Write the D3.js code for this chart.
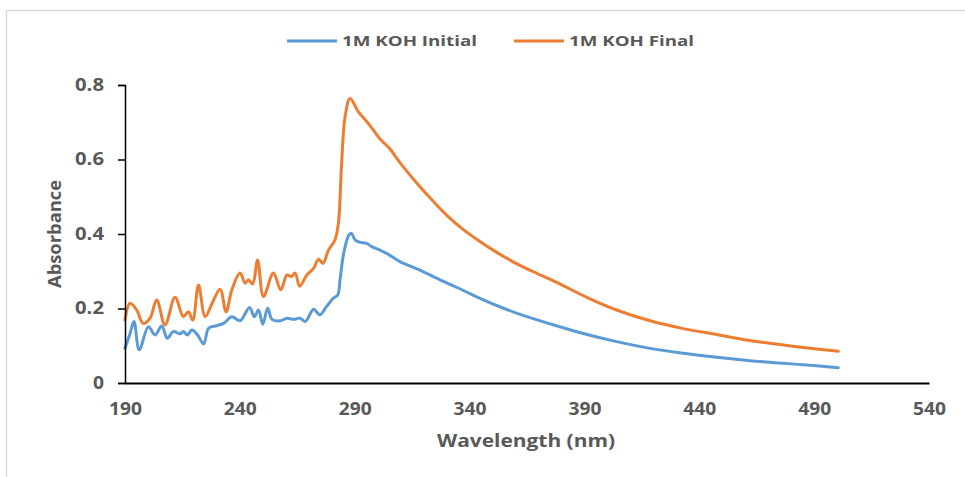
<!DOCTYPE html>
<html>
<head>
<meta charset="utf-8">
<script src="https://cdn.jsdelivr.net/npm/d3@7"></script>
<style>
  html, body { margin: 0; padding: 0; background: #fff; }
  svg text { font-family: "Open Sans", "Liberation Sans", sans-serif; font-weight: 700; fill: #595959; }
</style>
</head>
<body>
<svg id="chart" width="965" height="477"></svg>
<script>
// ---- Data ----
const seriesNames = ["1M KOH Initial", "1M KOH Final"];
const xTicks = [190, 240, 290, 340, 390, 440, 490, 540];
const yTicks = [0, 0.2, 0.4, 0.6, 0.8];
const yTickLabels = ["0", "0.2", "0.4", "0.6", "0.8"];

const initialWavelength = [190, 192.2, 193.9, 196.2, 200.2, 203.1, 206, 208.4, 211, 214, 215.4, 217.2, 219.1, 221.6, 224.2, 226.4, 229.3, 232.9, 236.5, 240.1, 244.2, 246.3, 248.1, 250, 252.1, 254, 257.6, 260.5, 263.4, 266.3, 268.5, 272.1, 274.8, 277.7, 280.6, 282.6, 283.6, 285.2, 287.4, 288.5, 290.1, 292, 295.2, 297.4, 301, 303.9, 305.5, 309.7, 318.4, 327.1, 335, 346, 355, 364.9, 377, 389.5, 404, 418.6, 433, 447.6, 462, 476.6, 491.1, 500.5];
const initialAbs = [0.093, 0.133, 0.165, 0.089, 0.151, 0.129, 0.153, 0.120, 0.138, 0.132, 0.138, 0.129, 0.142, 0.129, 0.105, 0.147, 0.153, 0.160, 0.178, 0.167, 0.203, 0.178, 0.196, 0.158, 0.201, 0.171, 0.167, 0.174, 0.171, 0.174, 0.165, 0.198, 0.183, 0.205, 0.227, 0.236, 0.277, 0.348, 0.397, 0.402, 0.385, 0.378, 0.375, 0.366, 0.357, 0.348, 0.342, 0.326, 0.303, 0.277, 0.255, 0.223, 0.200, 0.178, 0.155, 0.133, 0.111, 0.093, 0.080, 0.069, 0.060, 0.053, 0.046, 0.041];

const finalWavelength = [190, 192.2, 195.1, 197.9, 200.9, 203.8, 207.4, 211.8, 215.4, 217.6, 219.5, 222, 224.9, 228, 231.4, 234, 236.5, 240.1, 242.3, 243.7, 245.6, 247.7, 250.3, 254.6, 257.8, 260.5, 262.4, 264.1, 266, 269.2, 272.1, 274.3, 276.2, 278.6, 281.4, 282.9, 284.3, 285.8, 288, 291.6, 295.2, 298, 301, 303, 305.4, 308.3, 313, 318.4, 324, 330.1, 337, 344.5, 352, 360, 368, 378, 391, 404, 418.6, 433, 447.6, 462, 476.6, 491.1, 500.5];
const finalAbs = [0.169, 0.214, 0.196, 0.160, 0.174, 0.223, 0.156, 0.230, 0.178, 0.191, 0.169, 0.263, 0.178, 0.215, 0.252, 0.191, 0.250, 0.295, 0.268, 0.277, 0.266, 0.330, 0.232, 0.295, 0.250, 0.290, 0.286, 0.295, 0.260, 0.290, 0.308, 0.332, 0.321, 0.357, 0.384, 0.429, 0.590, 0.715, 0.764, 0.728, 0.702, 0.680, 0.655, 0.643, 0.628, 0.603, 0.566, 0.527, 0.489, 0.450, 0.413, 0.380, 0.350, 0.322, 0.298, 0.270, 0.230, 0.196, 0.167, 0.146, 0.130, 0.114, 0.102, 0.091, 0.085];

const colors = ["#5B9BD5", "#ED7D31"];

// ---- Layout ----
const svg = d3.select("#chart");
const x = d3.scaleLinear().domain([190, 540]).range([125, 929]);
const y = d3.scaleLinear().domain([0, 0.8]).range([383, 85]);

function fitText(sel, w) {
  sel.each(function() {
    this.setAttribute("textLength", w);
    this.setAttribute("lengthAdjust", "spacingAndGlyphs");
  });
}

// Outer chart-area border (partially visible)
svg.append("path")
  .attr("d", "M6.5,477 L6.5,10.5 L965,10.5")
  .attr("fill", "none").attr("stroke", "#d9d9d9").attr("stroke-width", 1.5);

// Series lines
const series = [
  { name: seriesNames[0], xs: initialWavelength, ys: initialAbs, color: colors[0] },
  { name: seriesNames[1], xs: finalWavelength, ys: finalAbs, color: colors[1] }
];
const line = d3.line()
  .x(d => x(d[0])).y(d => y(d[1]))
  .curve(d3.curveCatmullRom.alpha(0.5));

series.forEach(s => {
  svg.append("path")
    .datum(d3.zip(s.xs, s.ys))
    .attr("d", line)
    .attr("fill", "none")
    .attr("stroke", s.color)
    .attr("stroke-width", 3)
    .attr("stroke-linejoin", "round")
    .attr("stroke-linecap", "round");
});

// Y axis
const yAxis = d3.axisLeft(y).tickValues(yTicks).tickSize(7).tickPadding(14)
  .tickFormat((d, i) => yTickLabels[i]);
const gy = svg.append("g").attr("transform", "translate(125,0)").call(yAxis);
gy.select(".domain").attr("stroke", "#000").attr("stroke-width", 1.5);
gy.selectAll(".tick line").attr("stroke", "#000").attr("stroke-width", 1.5);
gy.selectAll(".tick text")
  .attr("font-size", 17).attr("fill", "#595959").attr("font-family", null)
  .each(function(d, i) { fitText(d3.select(this), yTickLabels[i].length === 1 ? 11 : 29); });

// X axis
const xAxis = d3.axisBottom(x).tickValues(xTicks).tickSize(0).tickPadding(20)
  .tickFormat(d3.format("d"));
const gx = svg.append("g").attr("transform", "translate(0,383)").call(xAxis);
gx.select(".domain").attr("stroke", "#000").attr("stroke-width", 2);
gx.selectAll(".tick text")
  .attr("font-size", 17).attr("fill", "#595959").attr("font-family", null)
  .call(fitText, 33);

// Axis titles
svg.append("text")
  .attr("x", 526).attr("y", 447)
  .attr("text-anchor", "middle")
  .attr("font-size", 18)
  .text("Wavelength (nm)")
  .call(fitText, 178);

svg.append("text")
  .attr("transform", "translate(61,234) rotate(-90)")
  .attr("text-anchor", "middle")
  .attr("font-size", 18)
  .text("Absorbance")
  .call(fitText, 108);

// Legend
const legendItems = [
  { x1: 287, x2: 337, tx: 342, tw: 135 },
  { x1: 514, x2: 564, tx: 569, tw: 125 }
];
legendItems.forEach((l, i) => {
  svg.append("line")
    .attr("x1", l.x1).attr("x2", l.x2).attr("y1", 41).attr("y2", 41)
    .attr("stroke", colors[i]).attr("stroke-width", 3);
  svg.append("text")
    .attr("x", l.tx).attr("y", 46)
    .attr("font-size", 15)
    .text(seriesNames[i])
    .call(fitText, l.tw);
});
</script>
</body>
</html>
